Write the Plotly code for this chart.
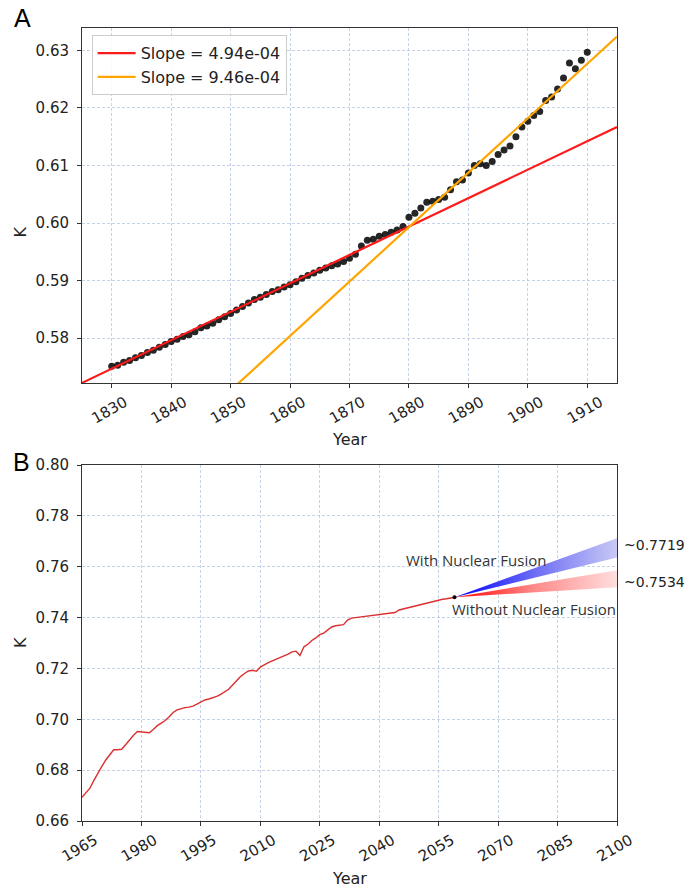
import plotly.graph_objects as go

# ---------------- Panel A data ----------------
years_a = list(range(1830, 1911))
k_a = [
    0.5751, 0.5753, 0.5758, 0.5761, 0.5766, 0.5770, 0.5775, 0.5779, 0.5784, 0.5789,  # 1830-1839
    0.5794, 0.5798, 0.5803, 0.5806, 0.5811, 0.5818, 0.5821, 0.5826, 0.5832, 0.5837,  # 1840-1849
    0.5843, 0.5849, 0.5855, 0.5861, 0.5867, 0.5871, 0.5876, 0.5881, 0.5884, 0.5889,  # 1850-1859
    0.5893, 0.5898, 0.5904, 0.5909, 0.5913, 0.5918, 0.5922, 0.5926, 0.5929, 0.5933,  # 1860-1869
    0.5939, 0.5946, 0.5960, 0.5970, 0.5972, 0.5977, 0.5980, 0.5984, 0.5988, 0.5994,  # 1870-1879
    0.6010, 0.6017, 0.6026, 0.6036, 0.6038, 0.6041, 0.6045, 0.6058, 0.6072, 0.6075,  # 1880-1889
    0.6087, 0.6100, 0.6103, 0.6100, 0.6107, 0.6119, 0.6127, 0.6134, 0.6150, 0.6167,  # 1890-1899
    0.6177, 0.6187, 0.6194, 0.6213, 0.6219, 0.6233, 0.6252, 0.6278, 0.6268, 0.6283,  # 1900-1909
    0.6297,                                                                          # 1910
]
fit_labels = ["Slope = 4.94e-04", "Slope = 9.46e-04"]
fit_slopes = [4.94e-4, 9.46e-4]
fit_pivot_year = 1880
fit_pivot_k = [0.5994, 0.5993]
xrange_a = [1825, 1915]
yrange_a = [0.5722, 0.6339]

# ---------------- Panel B data ----------------
years_b = list(range(1965, 2060))
k_b = [
    0.6693, 0.6710, 0.6729, 0.6760, 0.6790, 0.6815, 0.6840, 0.6862, 0.6880, 0.6880,  # 1965-1974
    0.6882, 0.6900, 0.6920, 0.6937, 0.6952, 0.6950, 0.6948, 0.6947, 0.6960, 0.6975,  # 1975-1984
    0.6985, 0.6995, 0.7010, 0.7027, 0.7037, 0.7042, 0.7046, 0.7048, 0.7052, 0.7060,  # 1985-1994
    0.7068, 0.7076, 0.7080, 0.7084, 0.7090, 0.7098, 0.7108, 0.7118, 0.7135, 0.7153,  # 1995-2004
    0.7168, 0.7180, 0.7190, 0.7193, 0.7189, 0.7205, 0.7215, 0.7223, 0.7230, 0.7236,  # 2005-2014
    0.7241, 0.7247, 0.7256, 0.7265, 0.7268, 0.7251, 0.7285, 0.7295, 0.7310, 0.7320,  # 2015-2024
    0.7333, 0.7339, 0.7350, 0.7363, 0.7368, 0.7370, 0.7372, 0.7390, 0.7398, 0.7400,  # 2025-2034
    0.7402, 0.7404, 0.7406, 0.7408, 0.7410, 0.7411, 0.7413, 0.7415, 0.7417, 0.7420,  # 2035-2044
    0.7430, 0.7434, 0.7438, 0.7442, 0.7446, 0.7450, 0.7453, 0.7457, 0.7461, 0.7464,  # 2045-2054
    0.7468, 0.7472, 0.7474, 0.7477, 0.7480,                                          # 2055-2059
]
fan_years = [2059, 2100]
fusion_upper = [0.7480, 0.7712]
fusion_lower = [0.7480, 0.7636]
nofusion_upper = [0.7480, 0.7586]
nofusion_lower = [0.7480, 0.7519]
end_labels = ["~0.7719", "~0.7534"]
end_label_k = [0.7686, 0.7538]
scenario_labels = ["With Nuclear Fusion", "Without Nuclear Fusion"]
scenario_label_year = [2064.5, 2079.0]
scenario_label_k = [0.7628, 0.7432]
xrange_b = [1965, 2100]
yrange_b = [0.66, 0.80]

# ---------------- Figure ----------------
fig = go.Figure()

# Panel A scatter
fig.add_trace(go.Scatter(
    x=years_a, y=k_a, mode="markers",
    marker=dict(color="black", size=7, opacity=0.85, line=dict(width=0)),
    showlegend=False, xaxis="x", yaxis="y", hoverinfo="skip",
))
# Panel A fit lines
for lab, s, pk, col in zip(fit_labels, fit_slopes, fit_pivot_k, ["#ff1a1a", "#ffa500"]):
    xs = xrange_a
    ys = [pk + s * (xv - fit_pivot_year) for xv in xs]
    fig.add_trace(go.Scatter(
        x=xs, y=ys, mode="lines", name=lab,
        line=dict(color=col, width=2.2),
        xaxis="x", yaxis="y",
    ))

# Panel B fans
def fan_poly(upper, lower):
    xs = list(fan_years) + list(reversed(fan_years))
    ys = list(upper) + list(reversed(lower))
    return xs, ys

fx, fy = fan_poly(fusion_upper, fusion_lower)
fig.add_trace(go.Scatter(
    x=fx, y=fy, mode="lines", fill="toself", line=dict(width=0),
    fillgradient=dict(type="horizontal",
                      colorscale=[[0, "rgb(0,0,255)"], [0.5, "rgb(110,110,245)"], [1, "rgb(200,200,245)"]]),
    showlegend=False, xaxis="x2", yaxis="y2", hoverinfo="skip",
))
nx, ny = fan_poly(nofusion_upper, nofusion_lower)
fig.add_trace(go.Scatter(
    x=nx, y=ny, mode="lines", fill="toself", line=dict(width=0),
    fillgradient=dict(type="horizontal",
                      colorscale=[[0, "rgb(255,0,0)"], [0.5, "rgb(255,140,140)"], [1, "rgb(255,222,222)"]]),
    showlegend=False, xaxis="x2", yaxis="y2", hoverinfo="skip",
))
# Panel B history line
fig.add_trace(go.Scatter(
    x=years_b, y=k_b, mode="lines",
    line=dict(color="#dc2f2f", width=1.4),
    showlegend=False, xaxis="x2", yaxis="y2", hoverinfo="skip",
))
# start point
fig.add_trace(go.Scatter(
    x=[years_b[-1]], y=[k_b[-1]], mode="markers",
    marker=dict(color="black", size=4),
    showlegend=False, xaxis="x2", yaxis="y2", hoverinfo="skip",
))

tick_font = dict(family="DejaVu Sans", size=15, color="#222222")
grid_col = "rgba(176,196,222,0.75)"
common = dict(
    showline=True, linecolor="#333333", linewidth=1, mirror=True,
    ticks="outside", ticklen=4, tickcolor="#333333", tickwidth=1,
    showgrid=True, gridcolor=grid_col, gridwidth=1, griddash="3px,2px",
    zeroline=False, tickfont=tick_font,
)

dom_a = [0.5523, 1.0]
dom_b = [0.0, 0.4489]

fig.update_layout(
    width=687, height=890,
    margin=dict(l=82, r=70, t=28, b=69),
    paper_bgcolor="white", plot_bgcolor="white",
    xaxis=dict(domain=[0, 1], anchor="y", range=xrange_a, tick0=1830, dtick=10,
               tickangle=-30, ticklabelshift=13, **common),
    yaxis=dict(domain=dom_a, anchor="x", range=yrange_a, tick0=0.58, dtick=0.01,
               tickformat=".2f", ticklabelstandoff=5, **common),
    xaxis2=dict(domain=[0, 1], anchor="y2", range=xrange_b, tick0=1965, dtick=15,
                tickangle=-30, ticklabelshift=13, **common),
    yaxis2=dict(domain=dom_b, anchor="x2", range=yrange_b, tick0=0.66, dtick=0.02,
                tickformat=".2f", ticklabelstandoff=5, **common),
    legend=dict(x=0.018, y=0.991, xanchor="left", yanchor="top",
                bgcolor="rgba(255,255,255,0.85)", bordercolor="#cccccc", borderwidth=1,
                font=dict(family="DejaVu Sans", size=16, color="#222222"),
                tracegroupgap=0, itemwidth=38),
    showlegend=True,
)

label_font = dict(family="DejaVu Sans", size=16, color="#222222")
ann = []
def add_text(text, x, y, xref="paper", yref="paper", font=label_font, angle=0, xanchor="center"):
    ann.append(dict(text=text, xref=xref, yref=yref, x=x, y=y, textangle=angle,
                    xanchor=xanchor, yanchor="middle", showarrow=False, font=font))

# Panel letters
letter_font = dict(family="Liberation Sans", size=25, color="black")
add_text("A", -0.1103, 1.0126, font=letter_font)
add_text("B", -0.1122, 0.4527, font=letter_font)
# Axis titles
add_text("Year", 0.5, 0.4805)
add_text("Year", 0.5, -0.0719)
add_text("K", -0.114, 0.7421, angle=-90)
add_text("K", -0.114, 0.2245, angle=-90)
# End labels
for t, kv in zip(end_labels, end_label_k):
    add_text(t, xrange_b[1], kv, xref="x2", yref="y2", xanchor="left",
             font=dict(family="DejaVu Sans", size=14, color="#222222"))
    ann[-1]["xshift"] = 5
# Scenario labels
for t, xv, kv in zip(scenario_labels, scenario_label_year, scenario_label_k):
    add_text(t, xv, kv, xref="x2", yref="y2",
             font=dict(family="Open Sans", size=15, color="#333333"))
fig.update_layout(annotations=ann)

fig.write_html("out.html", config={"displayModeBar": False},
               post_script="document.body.style.margin='0';")
